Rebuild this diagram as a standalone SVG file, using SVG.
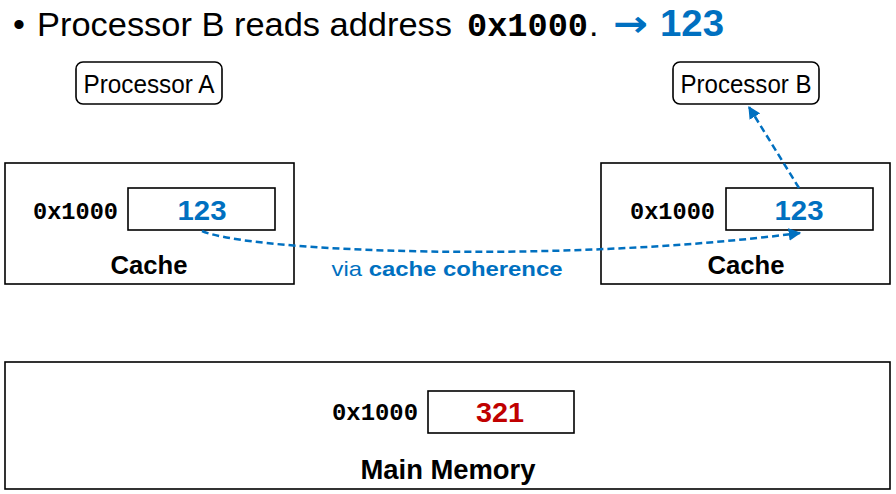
<svg xmlns="http://www.w3.org/2000/svg" width="896" height="494" viewBox="0 0 896 494">
<style>
.box{fill:#fff;stroke:#000;stroke-width:1.6}
.pbox{fill:#fff;stroke:#000;stroke-width:1.6}
.sans{font-family:"Liberation Sans",Arial,sans-serif}
.mono{font-family:"Liberation Mono","DejaVu Sans Mono",monospace;font-weight:bold}
.blue{fill:#0070C0}
.red{fill:#C00000}
.b{font-weight:bold}
.conn{fill:none;stroke:#0070C0;stroke-width:2.5;stroke-dasharray:7,4}
</style>
<defs>
<marker id="ah" viewBox="0 0 10 10" refX="9" refY="5" markerWidth="5" markerHeight="5" orient="auto" markerUnits="strokeWidth">
<path d="M0,0 L10,5 L0,10 z" fill="#0070C0"/>
</marker>
</defs>
<rect width="896" height="494" fill="#fff"/>
<g id="title">
<text x="13" y="36" class="sans" font-size="34">•</text>
<text x="37" y="36" class="sans" font-size="34" textLength="415" lengthAdjust="spacingAndGlyphs">Processor B reads address</text>
<text x="467" y="36" class="mono" font-size="33" textLength="121" lengthAdjust="spacingAndGlyphs">0x1000</text>
<text x="589" y="36" class="sans" font-size="34">.</text>
<text x="613" y="36" font-family="'DejaVu Sans',sans-serif" font-weight="bold" font-size="36" class="blue" textLength="35" lengthAdjust="spacingAndGlyphs">→</text>
<text x="660" y="36" class="sans b blue" font-size="36" textLength="64" lengthAdjust="spacingAndGlyphs">123</text>
</g>
<g id="procA">
<rect class="pbox" x="76" y="62" width="146" height="42" rx="7"/>
<text x="149" y="93" class="sans" font-size="25" text-anchor="middle" textLength="131" lengthAdjust="spacingAndGlyphs">Processor A</text>
</g>
<g id="procB">
<rect class="pbox" x="673" y="62" width="146" height="42" rx="7"/>
<text x="746" y="93" class="sans" font-size="25" text-anchor="middle" textLength="131" lengthAdjust="spacingAndGlyphs">Processor B</text>
</g>
<g id="cacheA">
<rect class="box" x="5" y="163" width="289" height="121"/>
<text x="33" y="219" class="mono" font-size="23.5" textLength="85" lengthAdjust="spacingAndGlyphs">0x1000</text>
<rect class="box" x="128" y="188" width="147" height="42"/>
<text x="202" y="220" class="sans b blue" font-size="27" text-anchor="middle" textLength="49" lengthAdjust="spacingAndGlyphs">123</text>
<text x="149" y="274" class="sans b" font-size="25" text-anchor="middle" textLength="77" lengthAdjust="spacingAndGlyphs">Cache</text>
</g>
<g id="cacheB">
<rect class="box" x="601" y="163" width="289" height="121"/>
<text x="630" y="219" class="mono" font-size="23.5" textLength="85" lengthAdjust="spacingAndGlyphs">0x1000</text>
<rect class="box" x="726" y="188" width="147" height="42"/>
<text x="799" y="220" class="sans b blue" font-size="27" text-anchor="middle" textLength="49" lengthAdjust="spacingAndGlyphs">123</text>
<text x="746" y="274" class="sans b" font-size="25" text-anchor="middle" textLength="77" lengthAdjust="spacingAndGlyphs">Cache</text>
</g>
<g id="memory">
<rect class="box" x="5" y="362" width="885" height="127"/>
<text x="332" y="420" class="mono" font-size="23.5" textLength="86" lengthAdjust="spacingAndGlyphs">0x1000</text>
<rect class="box" x="428" y="391" width="146" height="42"/>
<text x="500" y="422" class="sans b red" font-size="27" text-anchor="middle" textLength="48" lengthAdjust="spacingAndGlyphs">321</text>
<text x="448" y="479" class="sans b" font-size="27" text-anchor="middle" textLength="175" lengthAdjust="spacingAndGlyphs">Main Memory</text>
</g>
<g id="connectors">
<path class="conn" d="M202,231 C250,252 560,264 800,233" marker-end="url(#ah)"/>
<path class="conn" d="M799,188 L749,107" marker-end="url(#ah)"/>
<text x="447" y="276" class="sans blue" font-size="21" text-anchor="middle" textLength="231" lengthAdjust="spacingAndGlyphs">via <tspan class="b">cache coherence</tspan></text>
</g>
</svg>
